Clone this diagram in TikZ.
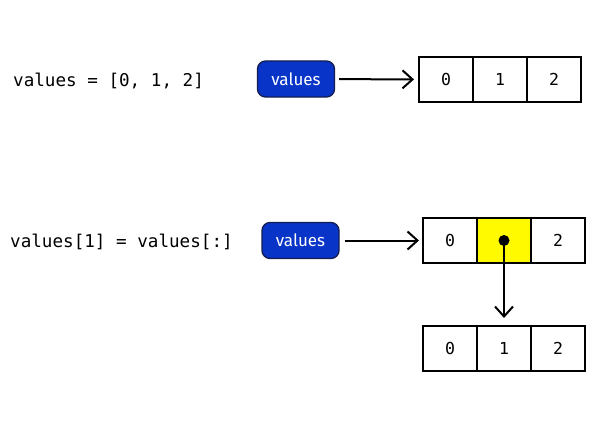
\documentclass[tikz,border=0pt]{standalone}
\usepackage{fontspec}
\setmonofont{DejaVu Sans Mono}
\newfontfamily\pillfont{Fira Sans}
\usetikzlibrary{positioning,arrows.meta}
\definecolor{pyblue}{RGB}{8,52,200}
\definecolor{pynavy}{RGB}{20,30,80}
\definecolor{hotcell}{RGB}{255,250,0}

\tikzstyle{cell}=[draw,line width=1.5pt,minimum width=54pt,minimum height=45pt,
    inner sep=0pt,outer sep=0pt,font=\ttfamily\fontsize{16.5}{16.5}\selectfont]
\tikzstyle{cell hot}=[fill=hotcell]
\tikzstyle{name pill}=[draw=pynavy,line width=1.3pt,fill=pyblue,text=white,
    rounded corners=8pt,minimum width=77pt,minimum height=36pt,inner sep=0pt,
    font=\pillfont\fontsize{17}{17}\selectfont]
\tikzstyle{code line}=[anchor=base west,inner sep=0pt,
    font=\ttfamily\fontsize{17.6}{17.6}\selectfont]
\tikzstyle{pointer}=[line width=2pt,->,>={Straight Barb[length=10pt,width=18pt]}]
\newcommand{\cells}[4][]{
    \node[cell] at (#2) (#30) {0};
    \node[cell,right=0pt of #30,#1] (#31) {#4};
    \node[cell,right=0pt of #31] (#32) {2};
}

\begin{document}
\begin{tikzpicture}[x=1pt,y=-1pt]
    \useasboundingbox (0,0) rectangle (594,444);
    %
    \node[code line] at (13,86) (codeA) {values = [0, 1, 2]};
    \node[name pill] at (296,79) (pillA) {values};
    \cells{446,79.5}{a}{1}
    \draw[pointer,shorten <=4pt,shorten >=5pt] (pillA) -- (a0);
    %
    \node[code line] at (10,247) (codeB) {values[1] = values[:]};
    \node[name pill] at (300.5,240.5) (pillB) {values};
    \cells[cell hot]{450,240.5}{b}{}
    \draw[pointer,shorten <=5pt,shorten >=4pt] (pillB) -- (b0);
    %
    \node[circle,fill,minimum size=11pt,inner sep=0pt] at (b1) (dot) {};
    \cells{450,348.5}{c}{1}
    \draw[pointer,shorten >=8pt] (dot.center) -- (c1);
\end{tikzpicture}
\end{document}
